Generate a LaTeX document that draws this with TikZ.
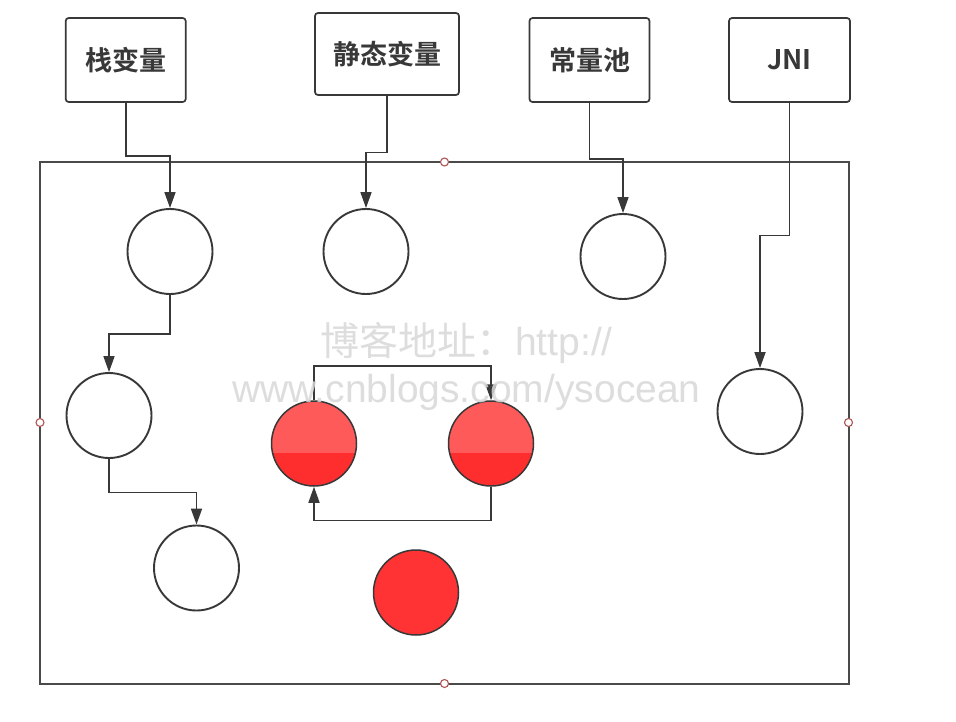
\documentclass[tikz,border=0pt]{standalone}
\usepackage{fontspec}
\setmainfont{Liberation Sans}
\newfontfamily\cjk{Noto Sans CJK SC}
\newfontfamily\cjkb{Noto Sans CJK SC Bold}
\usetikzlibrary{arrows.meta}
\definecolor{ln}{HTML}{383838}
\definecolor{frame}{HTML}{4A4A4A}
\definecolor{topred}{HTML}{FF5A5A}
\definecolor{lowred}{HTML}{FF2E2E}
\definecolor{solidred}{HTML}{FF3333}
\definecolor{mark}{HTML}{B05555}
\definecolor{wm}{HTML}{D8D8D8}
\begin{document}
\begin{tikzpicture}[x=1pt,y=-1pt,
  labelbox/.style={draw=ln, line width=1.7pt, rounded corners=3pt, fill=white, inner sep=0pt, font=\cjkb\fontsize{27}{31}\selectfont, text=ln},
  ball/.style={circle, draw=ln, line width=1.9pt, minimum size=85pt, inner sep=0pt, fill=white},
  redball/.style={ball, fill=topred, line width=1.5pt,
    path picture={\fill[lowred] ([yshift=-9pt]path picture bounding box.west) rectangle (path picture bounding box.south east);}},
  fullred/.style={ball, fill=solidred, line width=1.5pt},
  conn/.style={draw=ln, line width=1.7pt, -{Triangle[length=16pt,width=11pt]}},
  marker/.style={circle, draw=mark, fill=white, line width=1.1pt, minimum size=8pt, inner sep=0pt},
  wmtext/.style={text=wm, opacity=0.85, font=\fontsize{39}{44}\selectfont, inner sep=0pt, anchor=base}]
\useasboundingbox (0,0) rectangle (956,721);
\fill[white] (0,0) rectangle (956,721);

% frame
\draw[frame, line width=2pt] (40,162) rectangle (848.5,683.5);

% top boxes
\node[labelbox, minimum width=120pt, minimum height=84pt] (b1) at (125.7,60) {栈变量};
\node[labelbox, minimum width=144pt, minimum height=82pt] (b2) at (387,54) {静态变量};
\node[labelbox, minimum width=120pt, minimum height=84pt] (b3) at (589.5,60) {常量池};
\node[labelbox, minimum width=121pt, minimum height=84pt] (b4) at (789.5,60) {JNI};

% circles
\node[ball] (c1) at (170,251.5) {};
\node[ball] (c2) at (366,251.5) {};
\node[ball] (c3) at (623,256.5) {};
\node[ball] (c4) at (109,415.5) {};
\node[ball] (c5) at (760,411.5) {};
\node[ball] (c6) at (196.5,568) {};
\node[redball] (r1) at (314,443.5) {};
\node[redball] (r2) at (491,443.5) {};
\node[fullred] (r3) at (416,592.5) {};

% connectors
\draw[conn] (b1.south) -- (b1.south |- 0,156) -| (c1.north);
\draw[conn] (b2.south) -- (b2.south |- 0,152.5) -| (c2.north);
\draw[conn] (b3.south) -- (b3.south |- 0,159) -| (c3.north);
\draw[conn] (b4.south) -- (b4.south |- 0,235.5) -| (c5.north);
\draw[conn] (c1.south) -- (c1.south |- 0,334) -| (c4.north);
\draw[conn] (c4.south) -- (c4.south |- 0,492.5) -| (c6.north);
\draw[conn] (r1.north) -- (r1.north |- 0,366) -| (r2.north);
\draw[conn] (r2.south) -- (r2.south |- 0,520.5) -| (r1.south);

% frame midpoint markers
\node[marker] (m1) at (444.5,162) {};
\node[marker] (m2) at (40,422.5) {};
\node[marker] (m3) at (848.5,422.5) {};
\node[marker] (m4) at (444.5,683.5) {};

% watermark
\node[wmtext] (w1) at (466.5,355) {{\cjk 博客地址：}http://};
\node[wmtext] (w2) at (466.5,402) {www.cnblogs.com/ysocean};
\end{tikzpicture}
\end{document}
